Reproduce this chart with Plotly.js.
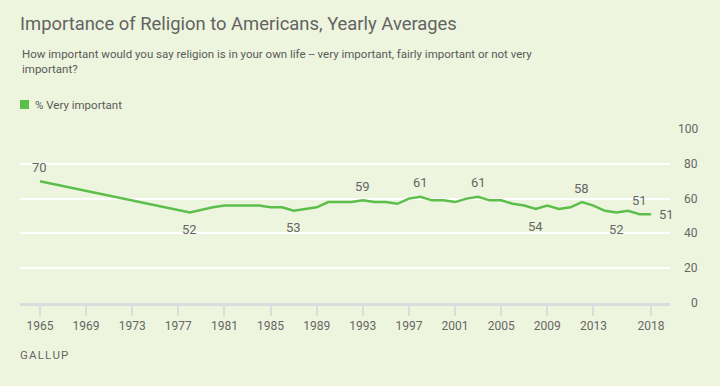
<!DOCTYPE html>
<html>
<head>
<meta charset="utf-8">
<script src="https://cdn.plot.ly/plotly-3.0.1.min.js"></script>
<style>
  html, body { margin: 0; padding: 0; background: #EEF5DE; }
  #chart { width: 720px; height: 386px; }
</style>
</head>
<body>
<div id="chart"></div>
<script>
const years = [1965, 1978, 1980, 1981, 1982, 1983, 1984, 1985, 1986, 1987, 1988, 1989, 1990, 1991, 1992, 1993, 1994, 1995, 1996, 1997, 1998, 1999, 2000, 2001, 2002, 2003, 2004, 2005, 2006, 2007, 2008, 2009, 2010, 2011, 2012, 2013, 2014, 2015, 2016, 2017, 2018];
const veryImportant = [70, 52, 55, 56, 56, 56, 56, 55, 55, 53, 54, 55, 58, 58, 58, 59, 58, 58, 57, 60, 61, 59, 59, 58, 60, 61, 59, 59, 57, 56, 54, 56, 54, 55, 58, 56, 53, 52, 53, 51, 51];
// labelled points: year, position
const labelYears = [1965, 1978, 1987, 1993, 1998, 2003, 2008, 2012, 2015, 2017, 2018];
const labelPos = ['above', 'below', 'below', 'above', 'above', 'above', 'below', 'above', 'below', 'above', 'right'];
const xTickVals = [1965, 1969, 1973, 1977, 1981, 1985, 1989, 1993, 1997, 2001, 2005, 2009, 2013, 2018];
const xTickText = ['1965', '1969', '1973', '1977', '1981', '1985', '1989', '1993', '1997', '2001', '2005', '2009', '2013', '2018'];
const yTickVals = [0, 20, 40, 60, 80, 100];

const titleText = 'Importance of Religion to Americans, Yearly Averages';
const subtitleText = 'How important would you say religion is in your own life -- very important, fairly important or not very<br>important?';
const seriesName = '% Very important';
const sourceText = 'GALLUP';

const FONT = 'Roboto, "Liberation Sans", sans-serif';
const GREEN = '#5CBF4C';
const TEXTC = '#666666';

const trace = {
  x: years,
  y: veryImportant,
  type: 'scatter',
  mode: 'lines',
  line: { color: GREEN, width: 2.5 },
  showlegend: false,
  hoverinfo: 'x+y'
};

const annotations = [];
labelYears.forEach((yr, i) => {
  const v = veryImportant[years.indexOf(yr)];
  const pos = labelPos[i];
  const a = {
    x: yr, y: v, xref: 'x', yref: 'y', text: String(v), showarrow: false,
    font: { family: FONT, size: 13, color: TEXTC }
  };
  if (pos === 'above') { a.yshift = 14; }
  else if (pos === 'below') { a.yshift = -17; }
  else { a.xanchor = 'left'; a.xshift = 6; }
  annotations.push(a);
});
yTickVals.forEach(v => {
  annotations.push({
    x: 1, y: v, xref: 'paper', yref: 'y', text: String(v), showarrow: false,
    xanchor: 'right', xshift: 30, font: { family: FONT, size: 12, color: TEXTC }
  });
});
annotations.push({
  x: 0, y: 1, xref: 'paper', yref: 'paper', xanchor: 'left', yanchor: 'top',
  xshift: 0, yshift: 84, align: 'left', text: subtitleText, showarrow: false,
  font: { family: FONT, size: 11.5, color: '#595959' }
});
annotations.push({
  x: 0, y: 1, xref: 'paper', yref: 'paper', xanchor: 'left', yanchor: 'middle',
  xshift: 13, yshift: 24, text: seriesName, showarrow: false,
  font: { family: FONT, size: 11.5, color: '#595959' }
});
annotations.push({
  x: 0, y: 0, xref: 'paper', yref: 'paper', xanchor: 'left', yanchor: 'middle',
  xshift: -2, yshift: -52, text: sourceText.split('').join('\u200A'), showarrow: false,
  font: { family: FONT, size: 11.5, color: TEXTC }
});

const layout = {
  width: 720, height: 386,
  margin: { l: 20, r: 50, t: 129, b: 83 },
  paper_bgcolor: '#EEF5DE',
  plot_bgcolor: '#EEF5DE',
  title: {
    text: titleText, x: 0, xref: 'paper', xanchor: 'left', y: 0.94, yanchor: 'middle',
    font: { family: FONT, size: 18.4, color: '#636363' }
  },
  xaxis: {
    range: [1963.27, 2019.64],
    tickvals: xTickVals, ticktext: xTickText,
    ticks: 'outside', ticklen: 10, tickwidth: 2, tickcolor: '#DCDCDC',
    showline: true, linecolor: '#DCDCDC', linewidth: 3,
    showgrid: false, zeroline: false,
    tickfont: { family: FONT, size: 12, color: TEXTC }
  },
  yaxis: {
    range: [0, 100], tickvals: yTickVals, showticklabels: false,
    showgrid: true, gridcolor: '#FFFFFF', gridwidth: 2, zeroline: false,
    side: 'right', fixedrange: true
  },
  shapes: [{
    type: 'rect', xref: 'paper', yref: 'paper',
    xsizemode: 'pixel', ysizemode: 'pixel', xanchor: 0, yanchor: 1,
    x0: 0, x1: 9, y0: 20, y1: 29,
    fillcolor: GREEN, line: { width: 0 }
  }],
  annotations: annotations,
  showlegend: false
};

Plotly.newPlot('chart', [trace], layout, { displayModeBar: false, staticPlot: true });
</script>
</body>
</html>
